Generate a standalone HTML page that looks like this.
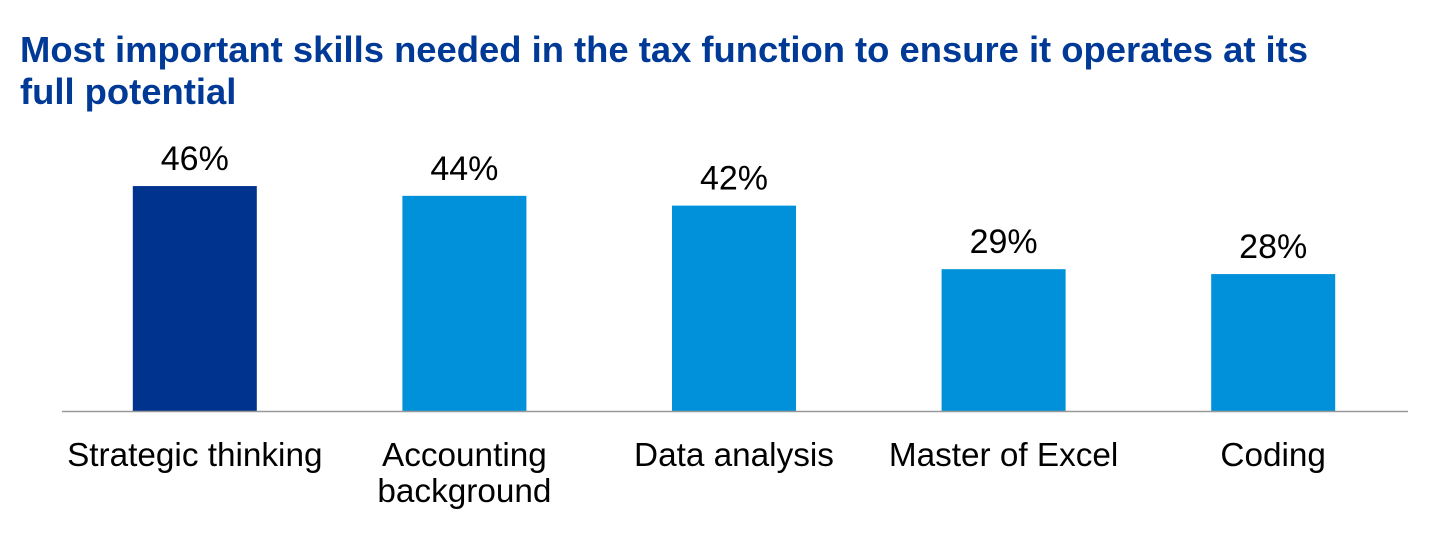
<!DOCTYPE html>
<html><head><meta charset="utf-8"><style>
body{margin:0;background:#fff;width:1438px;height:548px;overflow:hidden;font-family:"Liberation Sans",sans-serif}
#title{position:absolute;left:20px;top:29px;margin:0;font-size:36.4px;font-weight:bold;color:#003a96;line-height:42px;white-space:nowrap}
</style></head><body>
<h1 id="title">Most important skills needed in the tax function to ensure it operates at its<br>full potential</h1>
<svg id="chart" width="1438" height="548" style="position:absolute;left:0;top:0"></svg>
<script>
const categories=[["Strategic thinking"],["Accounting","background"],["Data analysis"],["Master of Excel"],["Coding"]];
const values=[46,44,42,29,28];
const valueLabels=["46%","44%","42%","29%","28%"];
const colors=["#00338d","#0091da","#0091da","#0091da","#0091da"];
const svg=document.getElementById('chart');
const NS='http://www.w3.org/2000/svg';
const x0=60,x1=1408,base=411,ppu=4.89,barW=124;
const band=(x1-x0)/values.length;
const xc=i=>x0+band*(i+0.5);
const y=v=>base-v*ppu;
function mk(t,a){const e=document.createElementNS(NS,t);for(const k in a)e.setAttribute(k,a[k]);svg.appendChild(e);return e;}
values.forEach((v,i)=>{
 const r=mk('rect',{x:xc(i)-barW/2,y:y(v),width:barW,height:base-y(v),fill:colors[i]});
 
 
 const t=mk('text',{x:xc(i),y:y(v)-16,'text-anchor':'middle','font-size':'34','fill':'#000'});
 t.textContent=valueLabels[i];
 
 
 categories[i].forEach((ln,j)=>{
  const c=mk('text',{x:xc(i),y:466+j*36,'text-anchor':'middle','font-size':'33.3','fill':'#000'});
  c.textContent=ln;
  
  
 });
});
const ax=mk('line',{x1:x0+2,x2:x1,y1:base+0.5,y2:base+0.5,stroke:'#999','stroke-width':'1.5'});


</script>
</body></html>
